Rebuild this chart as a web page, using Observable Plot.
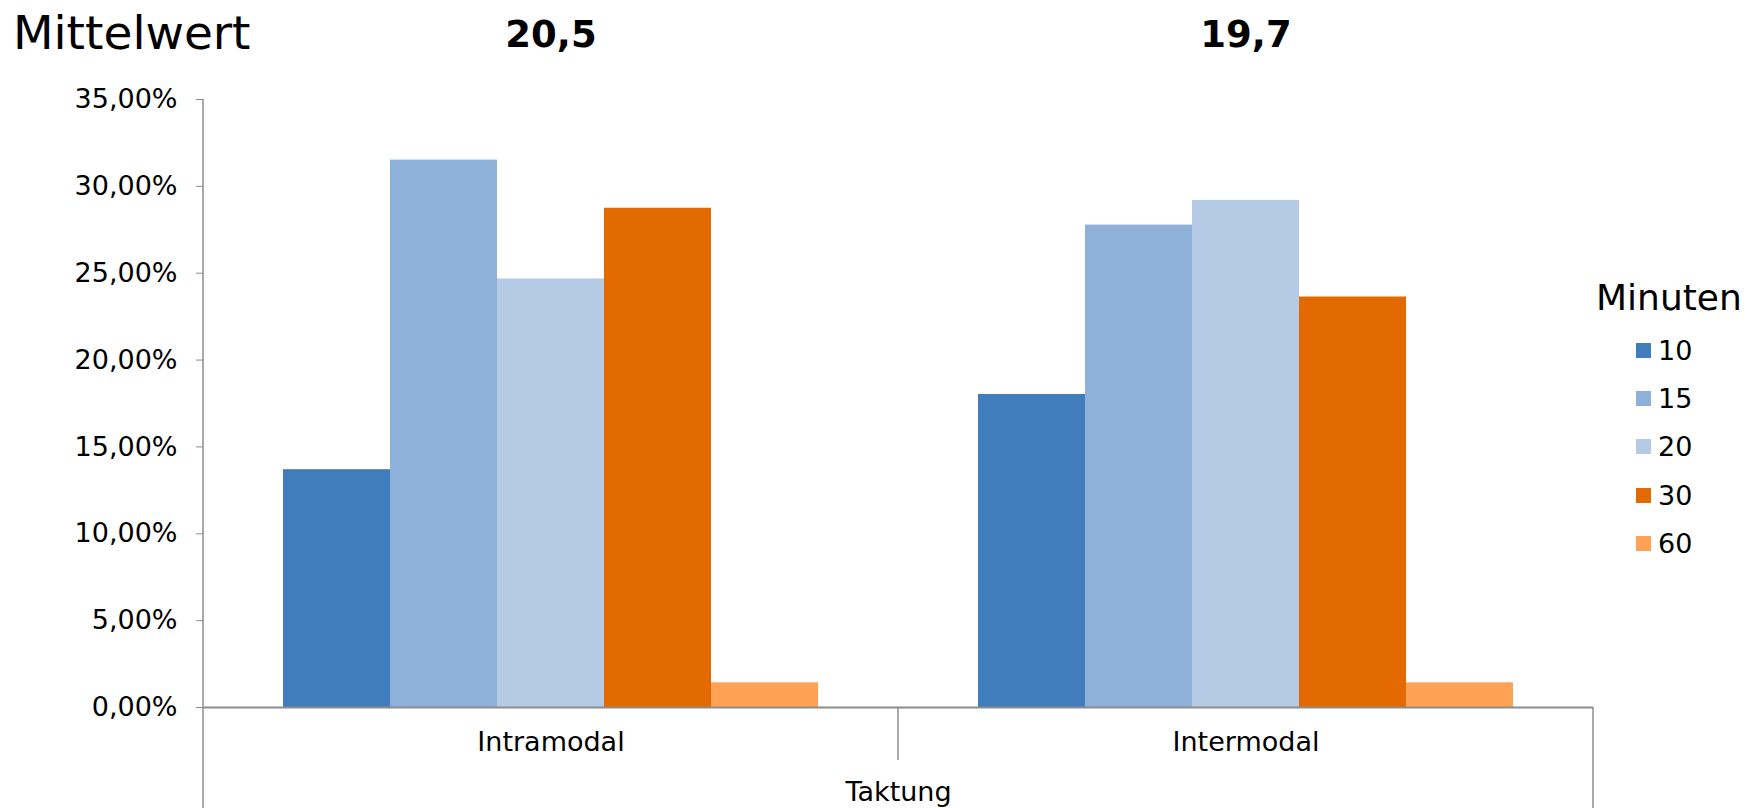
<!DOCTYPE html>
<html><head><meta charset="utf-8">
<script src="https://cdn.jsdelivr.net/npm/d3@7"></script>
<script src="https://cdn.jsdelivr.net/npm/@observablehq/plot@0.6"></script>
<style>
body{margin:0;background:#fff;}
#wrap{position:relative;width:1761px;height:808px;overflow:hidden;font-family:"DejaVu Sans",Verdana,sans-serif;color:#000;}
#title{position:absolute;left:13px;top:9px;font-size:47px;line-height:1;white-space:nowrap;}
#legTitle{position:absolute;left:1596px;top:280px;font-size:36px;line-height:1;white-space:nowrap;}
#legend{position:absolute;left:1636px;top:326px;}
.row{display:flex;align-items:center;height:48.4px;font-size:27px;}
.sw{width:15px;height:15px;margin-right:7px;}
#chart{position:absolute;left:0;top:0;}
</style></head><body>
<div id="wrap"><div id="chart"></div><div id="title"></div><div id="legTitle"></div><div id="legend"></div></div>
<script>
const title = "Mittelwert";
const categories = ["Intramodal", "Intermodal"];
const minuten = ["10", "15", "20", "30", "60"];
const intramodal = [13.69, 31.51, 24.67, 28.74, 1.42];
const intermodal = [18.02, 27.77, 29.19, 23.63, 1.42];
const means = ["20,5", "19,7"];
const colors = ["#417DBD", "#8EB1DA", "#B5CBE5", "#E26A00", "#FFA255"];
const yTicks = [0, 5, 10, 15, 20, 25, 30, 35];
const xLabel = "Taktung";
const legendTitle = "Minuten";

const series = [intramodal, intermodal];
const rows = [];
categories.forEach((c, ci) => minuten.forEach((m, mi) => rows.push({cat: c, min: m, value: series[ci][mi]})));
const meanRows = categories.map((c, i) => ({cat: c, label: means[i]}));
const fmt = d => d.toFixed(2).replace(".", ",") + "%";

const plot = Plot.plot({
  width: 1761, height: 808,
  marginLeft: 202, marginRight: 168, marginTop: 99, marginBottom: 101,
  style: {fontFamily: "'DejaVu Sans', Verdana, sans-serif", fontSize: "27px", color: "#000", background: "transparent", overflow: "visible"},
  fx: {domain: categories, padding: 0, label: null},
  x: {domain: minuten, paddingInner: 0, paddingOuter: 0.72, axis: null},
  y: {domain: [0, 35], axis: null},
  color: {domain: minuten, range: colors},
  marks: [
    Plot.barY(rows, {fx: "cat", x: "min", y: "value", fill: "min"}),
    Plot.axisY({ticks: yTicks, tickFormat: fmt, tickSize: 7, tickPadding: 19, stroke: "#8c8c8c", fill: "#000", label: null, fontSize: 27}),
    Plot.ruleY([0], {stroke: "#8c8c8c", strokeWidth: 2}),
    Plot.axisFx({anchor: "bottom", tickSize: 0, tickPadding: 24, label: xLabel, labelAnchor: "center", labelOffset: 93, fill: "#000", fontSize: 27}),
    Plot.text(meanRows, {fx: "cat", text: "label", frameAnchor: "top", dy: -79, fontWeight: "bold", fontSize: 37, fill: "#000"})
  ]
});
document.getElementById("chart").appendChild(plot);

// axis framing lines from the library's own scales
const svg = d3.select(plot.tagName.toLowerCase() === "svg" ? plot : plot.querySelector("svg"));
const fxS = plot.scale("fx"), yS = plot.scale("y");
const xa = fxS.apply(categories[0]), xb = fxS.apply(categories[1]), xc = xb + fxS.bandwidth;
const yTop = yS.apply(yTicks[yTicks.length - 1]), y0 = yS.apply(0), yBot = 808;
const g = svg.append("g").attr("stroke", "#8c8c8c").attr("stroke-width", 1.5);
g.append("line").attr("x1", xa).attr("x2", xa).attr("y1", yTop).attr("y2", yBot);
g.append("line").attr("x1", xb).attr("x2", xb).attr("y1", y0).attr("y2", y0 + 53);
g.append("line").attr("x1", xc).attr("x2", xc).attr("y1", y0).attr("y2", yBot);

document.getElementById("title").textContent = title;
document.getElementById("legTitle").textContent = legendTitle;
const leg = d3.select("#legend");
minuten.forEach((m, i) => {
  const r = leg.append("div").attr("class", "row");
  r.append("div").attr("class", "sw").style("background", colors[i]);
  r.append("span").text(m);
});
</script>
</body></html>
